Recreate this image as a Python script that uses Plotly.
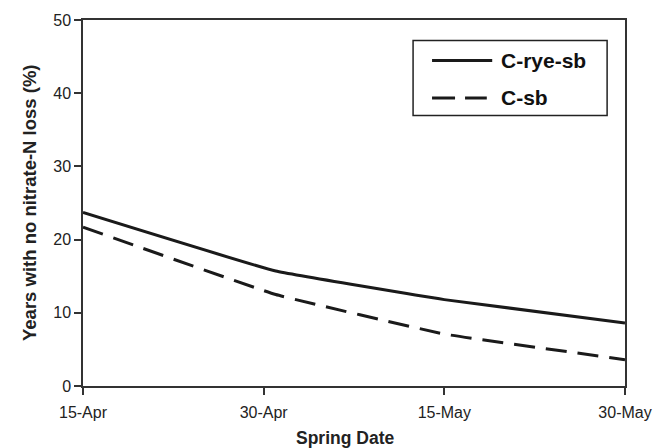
import plotly.graph_objects as go

# Spring dates at which the share of years is evaluated
dates = ["2000-04-15", "2000-05-01", "2000-05-15", "2000-05-30"]
tick_dates = ["2000-04-15", "2000-04-30", "2000-05-15", "2000-05-30"]
tick_labels = ["15-Apr", "30-Apr", "15-May", "30-May"]
y_ticks = [0, 10, 20, 30, 40, 50]

# Percent of years with no nitrate-N loss
c_rye_sb = [23.7, 15.7, 11.8, 8.6]
c_sb = [21.7, 12.5, 7.1, 3.6]

FONT = "Liberation Sans, Arial, Helvetica, sans-serif"
INK = "#1a1a1a"

fig = go.Figure()
fig.add_trace(go.Scatter(
    x=dates, y=c_rye_sb, mode="lines", name="C-rye-sb",
    line=dict(color=INK, width=3, shape="spline", smoothing=0.25),
    showlegend=False,
))
fig.add_trace(go.Scatter(
    x=dates, y=c_sb, mode="lines", name="C-sb",
    line=dict(color=INK, width=3, dash="21px,11px", shape="spline", smoothing=0.25),
    showlegend=False,
))

axis_common = dict(
    showline=True, linecolor="#333333", linewidth=1.5, mirror=True,
    ticks="outside", ticklen=7, tickwidth=1.5, tickcolor="#333333",
    showgrid=False, zeroline=False,
    tickfont=dict(family=FONT, size=16, color="#222222"),
)

fig.update_xaxes(
    type="date", range=["2000-04-15", "2000-05-30"],
    tickvals=tick_dates, ticktext=tick_labels, ticklabelstandoff=4,
    **axis_common,
)
fig.update_yaxes(range=[0, 50], tickvals=y_ticks, **axis_common)

# Legend box drawn with shapes and labels
fig.add_shape(type="rect", xref="paper", yref="paper",
              x0=0.609, x1=0.967, y0=0.739, y1=0.944,
              line=dict(color="#222222", width=1.5), fillcolor="white")
fig.add_shape(type="line", xref="paper", yref="paper",
              x0=0.644, x1=0.755, y0=0.8896, y1=0.8896,
              line=dict(color=INK, width=3))
fig.add_shape(type="line", xref="paper", yref="paper",
              x0=0.644, x1=0.745, y0=0.787, y1=0.787,
              line=dict(color=INK, width=3, dash="23px,10px"))
for label, yp in [("C-rye-sb", 0.8896), ("C-sb", 0.787)]:
    fig.add_annotation(xref="paper", yref="paper", x=0.7675, y=yp,
                       text=f"<b>{label}</b>", showarrow=False,
                       xanchor="left", yanchor="middle",
                       font=dict(family=FONT, size=21, color="#111111"))

# Axis titles
fig.add_annotation(xref="paper", yref="paper", x=0.483, y=-0.1427,
                   text="<b>Spring Date</b>", showarrow=False,
                   xanchor="center", yanchor="middle",
                   font=dict(family=FONT, size=17.5, color="#222222"))
fig.add_annotation(xref="paper", yref="paper", x=-0.0996, y=0.5,
                   text="<b>Years with no nitrate-N loss (%)</b>", showarrow=False,
                   textangle=-90, xanchor="center", yanchor="middle",
                   font=dict(family=FONT, size=18.5, color="#222222"))

fig.update_layout(
    width=665, height=448,
    margin=dict(l=83, r=40, t=15, b=61.5),
    paper_bgcolor="white", plot_bgcolor="white",
    showlegend=False,
)

fig.write_html("out.html")
